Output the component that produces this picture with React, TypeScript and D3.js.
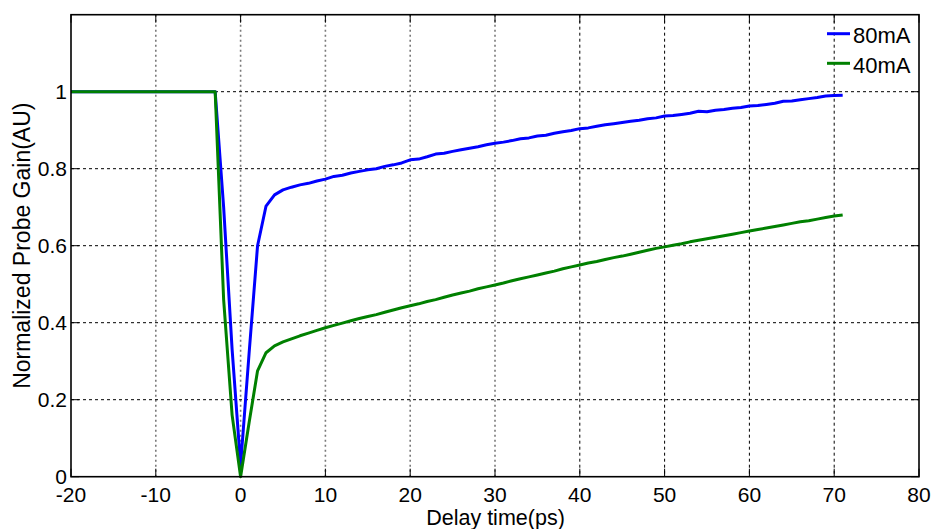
import React from "react";
import * as d3 from "d3";

const delayTime: number[] = [-20, -3, -2, -1, 0, 1, 2, 3, 4, 5, 6, 7, 8, 9, 10, 11, 12, 13, 14, 15, 16, 17, 18, 19, 20, 21, 22, 23, 24, 25, 26, 27, 28, 29, 30, 31, 32, 33, 34, 35, 36, 37, 38, 39, 40, 41, 42, 43, 44, 45, 46, 47, 48, 49, 50, 51, 52, 53, 54, 55, 56, 57, 58, 59, 60, 61, 62, 63, 64, 65, 66, 67, 68, 69, 70, 71];

const gain80mA: number[] = [1, 1, 0.70, 0.33, 0.03, 0.32, 0.60, 0.703, 0.732, 0.745, 0.752, 0.758, 0.762, 0.768, 0.773, 0.780, 0.783, 0.789, 0.793, 0.797, 0.800, 0.806, 0.810, 0.815, 0.823, 0.825, 0.831, 0.838, 0.840, 0.845, 0.849, 0.853, 0.857, 0.862, 0.866, 0.869, 0.873, 0.878, 0.880, 0.885, 0.887, 0.892, 0.896, 0.899, 0.904, 0.906, 0.910, 0.914, 0.917, 0.920, 0.923, 0.926, 0.930, 0.932, 0.937, 0.938, 0.941, 0.944, 0.949, 0.948, 0.952, 0.954, 0.957, 0.959, 0.963, 0.964, 0.967, 0.970, 0.975, 0.976, 0.979, 0.982, 0.985, 0.989, 0.990, 0.991];

const gain40mA: number[] = [1, 1, 0.46, 0.16, 0.0, 0.14, 0.275, 0.322, 0.340, 0.350, 0.358, 0.366, 0.373, 0.380, 0.387, 0.393, 0.399, 0.405, 0.411, 0.416, 0.421, 0.427, 0.433, 0.439, 0.444, 0.449, 0.455, 0.460, 0.466, 0.472, 0.477, 0.482, 0.488, 0.493, 0.498, 0.503, 0.509, 0.514, 0.519, 0.524, 0.529, 0.534, 0.540, 0.545, 0.550, 0.555, 0.559, 0.564, 0.569, 0.573, 0.578, 0.583, 0.588, 0.593, 0.597, 0.601, 0.605, 0.610, 0.614, 0.618, 0.622, 0.626, 0.630, 0.634, 0.638, 0.642, 0.646, 0.650, 0.654, 0.658, 0.662, 0.665, 0.669, 0.673, 0.677, 0.680];

const xTicks: number[] = [-20, -10, 0, 10, 20, 30, 40, 50, 60, 70, 80];
const yTicks: number[] = [0, 0.2, 0.4, 0.6, 0.8, 1];
const yTickLabels: string[] = ["0", "0.2", "0.4", "0.6", "0.8", "1"];
const seriesNames: string[] = ["80mA", "40mA"];
const seriesColors: string[] = ["#0000ff", "#008000"];

const W = 932;
const H = 529;
const L = 71;
const R = 919;
const T = 14.7;
const B = 476.7;
const FONT = "'Liberation Sans', Arial, sans-serif";

export default function App() {
  const x = d3.scaleLinear().domain([-20, 80]).range([L, R]);
  const y = d3.scaleLinear().domain([0, 1.2]).range([B, T]);
  const line = d3
    .line<number>()
    .x((_, i) => x(delayTime[i]))
    .y((d) => y(d));
  const series = [gain80mA, gain40mA];
  const tickLen = 8;

  return (
    <svg
      width={W}
      height={H}
      style={{ position: "absolute", left: 0, top: 0, background: "#fff" }}
      fontFamily={FONT}
    >
      <rect x={0} y={0} width={W} height={H} fill="#fff" />
      {/* vertical grid */}
      {xTicks.slice(1, -1).map((t) => {
        const gray = t <= 30;
        return (
          <line
            key={"vg" + t}
            x1={x(t)}
            x2={x(t)}
            y1={T}
            y2={B}
            stroke={gray ? "#7a7a7a" : "#000"}
            strokeWidth={gray ? 1.6 : 1}
            strokeDasharray={gray ? "2,3" : "3,3"}
          />
        );
      })}
      {/* horizontal grid */}
      {yTicks.slice(1).map((t) => (
        <line
          key={"hg" + t}
          x1={L}
          x2={R}
          y1={y(t)}
          y2={y(t)}
          stroke="#000"
          strokeWidth={1}
          strokeDasharray="3,3"
        />
      ))}
      {/* ticks */}
      {xTicks.map((t) => (
        <g key={"xt" + t}>
          <line x1={x(t)} x2={x(t)} y1={B} y2={B - tickLen} stroke="#000" strokeWidth={1} />
          <line x1={x(t)} x2={x(t)} y1={T} y2={T + tickLen} stroke="#000" strokeWidth={1} />
          <text x={x(t)} y={502} textAnchor="middle" fontSize={21} fill="#000">
            {t}
          </text>
        </g>
      ))}
      {yTicks.map((t, i) => (
        <g key={"yt" + t}>
          <line x1={L} x2={L + tickLen} y1={y(t)} y2={y(t)} stroke="#000" strokeWidth={1} />
          <line x1={R} x2={R - tickLen} y1={y(t)} y2={y(t)} stroke="#000" strokeWidth={1} />
          <text x={67} y={y(t) + 7.5} textAnchor="end" fontSize={21} fill="#000">
            {yTickLabels[i]}
          </text>
        </g>
      ))}
      {/* series */}
      {series.map((s, i) => (
        <path
          key={"s" + i}
          d={line(s) || ""}
          fill="none"
          stroke={seriesColors[i]}
          strokeWidth={3}
          strokeLinejoin="round"
        />
      ))}
      {/* box */}
      <rect x={L} y={T} width={R - L} height={B - T} fill="none" stroke="#000" strokeWidth={1.6} />
      {/* legend */}
      {seriesNames.map((n, i) => (
        <g key={"lg" + n}>
          <line
            x1={827}
            x2={850}
            y1={33.7 + i * 29.6}
            y2={33.7 + i * 29.6}
            stroke={seriesColors[i]}
            strokeWidth={3}
          />
          <text x={853} y={43 + i * 29.6} fontSize={22} fill="#000">
            {n}
          </text>
        </g>
      ))}
      {/* axis labels */}
      <text x={(L + R) / 2 + 0.5} y={525} textAnchor="middle" fontSize={21.5} fill="#000">
        Delay time(ps)
      </text>
      <text
        transform={`translate(30, ${(T + B) / 2}) rotate(-90)`}
        textAnchor="middle"
        fontSize={23}
        fill="#000"
      >
        Normalized Probe Gain(AU)
      </text>
    </svg>
  );
}
